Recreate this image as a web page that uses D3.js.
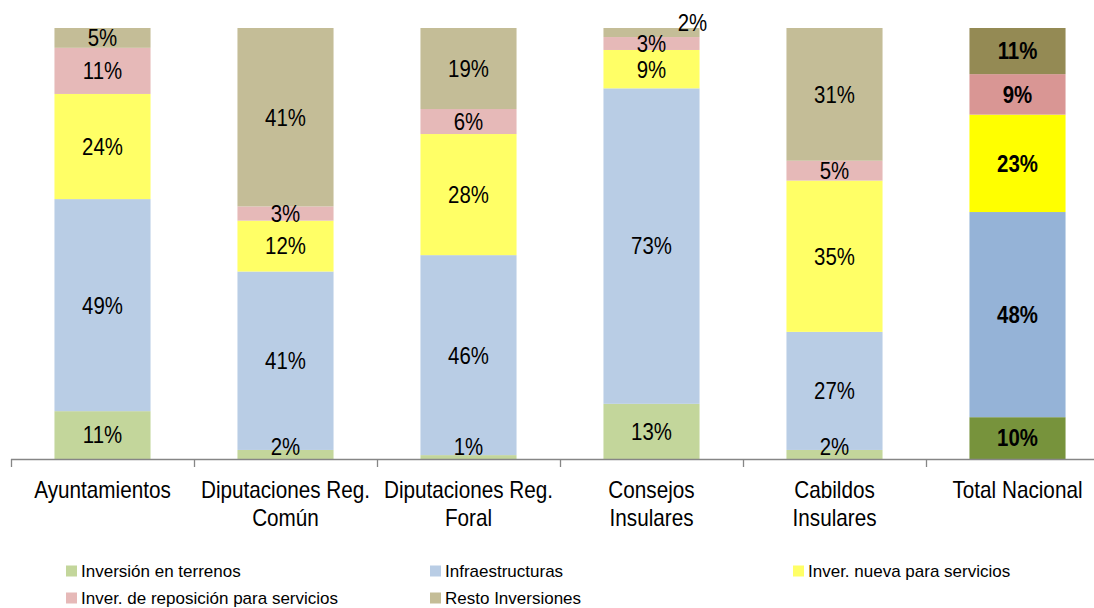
<!DOCTYPE html>
<html>
<head>
<meta charset="utf-8">
<script src="https://cdn.jsdelivr.net/npm/d3@7"></script>
<style>
  body { margin: 0; background: #fff; }
  svg { display: block; font-family: "Liberation Sans", Arial, sans-serif; }
</style>
</head>
<body>
<svg id="chart" width="1094" height="608"></svg>
<script>
// categories (text lines of each x label)
var categories = [
    ['Ayuntamientos'],
    ['Diputaciones Reg.', 'Común'],
    ['Diputaciones Reg.', 'Foral'],
    ['Consejos', 'Insulares'],
    ['Cabildos', 'Insulares'],
    ['Total Nacional']
];
var series = [
    'Inversión en terrenos',
    'Infraestructuras',
    'Inver. nueva para servicios',
    'Inver. de reposición para servicios',
    'Resto Inversiones'
];
// percentage per category, one list per series
var terrenos      = [11.1,  2.1,  0.9, 12.8,  2.1,  9.7];
var infraestruct  = [49.2, 41.4, 46.4, 73.2, 27.4, 47.6];
var nuevaServ     = [24.4, 11.8, 28.1,  8.9, 35.1, 22.6];
var reposicion    = [10.7,  3.3,  5.8,  3.0,  4.6,  9.4];
var resto         = [ 4.6, 41.4, 18.8,  2.1, 30.8, 10.7];

var colors      = ['#C3D69B', '#B9CDE5', '#FFFF66', '#E6B9B8', '#C4BD97'];
var totalColors = ['#77933C', '#95B3D7', '#FFFF00', '#D99694', '#948A54'];

var values = [terrenos, infraestruct, nuevaServ, reposicion, resto];
var svg = d3.select('#chart');

var names = categories.map(function (c) { return c.join(' '); });
var rows = names.map(function (n, i) {
    var r = {name: n};
    series.forEach(function (s, j) { r[s] = values[j][i]; });
    return r;
});

var x = d3.scaleBand()
    .domain(names)
    .range([11, 1109])
    .paddingInner(0.475)
    .paddingOuter(0.2375);
var y = d3.scaleLinear().domain([0, 100]).range([459, 28]);

var stacked = d3.stack().keys(series)(rows);
var last = names.length - 1;

// flatten into segments
var segments = [];
stacked.forEach(function (layer) {
    layer.forEach(function (p, i) {
        segments.push({p: p, s: layer.index, i: i, name: p.data.name});
    });
});

svg.append('g').selectAll('rect')
    .data(segments)
  .enter().append('rect')
    .attr('x', function (d) { return x(d.name); })
    .attr('width', x.bandwidth())
    .attr('y', function (d) { return y(d.p[1]); })
    .attr('height', function (d) { return y(d.p[0]) - y(d.p[1]); })
    .attr('fill', function (d) { return d.i === last ? totalColors[d.s] : colors[d.s]; });

function outside(d) {
    return d.s === series.length - 1 && d.p[1] - d.p[0] < 2.5;
}

svg.append('g').selectAll('text')
    .data(segments)
  .enter().append('text')
    .attr('text-anchor', 'middle')
    .attr('dy', '0.35em')
    .style('font-size', '24px')
    .style('font-weight', function (d) { return d.i === last ? 'bold' : 'normal'; })
    .attr('transform', function (d) {
        var cx = x(d.name) + x.bandwidth() / 2;
        var cy = (y(d.p[0]) + y(d.p[1])) / 2;
        cy = Math.min(cy, y(0) - 12);
        if (outside(d)) {
            cx += 41;
            cy = y(100) - 5;
        }
        return 'translate(' + cx + ',' + cy + ') scale(0.85,1)';
    })
    .text(function (d) { return Math.round(d.p[1] - d.p[0]) + '%'; });

// axis with ticks between categories
var axisColor = '#868686';
svg.append('line')
    .attr('x1', 11).attr('x2', 1094)
    .attr('y1', y(0) + 0.5).attr('y2', y(0) + 0.5)
    .attr('stroke', axisColor).attr('stroke-width', 1.3);
var gap = x.step() * x.paddingInner() / 2;
svg.selectAll('.tick')
    .data(names)
  .enter().append('line')
    .attr('class', 'tick')
    .attr('x1', function (d) { return Math.round(x(d) - gap) + 0.5; })
    .attr('x2', function (d) { return Math.round(x(d) - gap) + 0.5; })
    .attr('y1', y(0)).attr('y2', y(0) + 8)
    .attr('stroke', axisColor).attr('stroke-width', 1.3);

var labels = svg.selectAll('.cat')
    .data(categories)
  .enter().append('text')
    .attr('class', 'cat')
    .attr('text-anchor', 'middle')
    .style('font-size', '23px')
    .attr('transform', function (d, i) {
        return 'translate(' + (x(names[i]) + x.bandwidth() / 2) + ',498) scale(0.9,1)';
    });
labels.selectAll('tspan')
    .data(function (d) { return d; })
  .enter().append('tspan')
    .attr('x', 0)
    .attr('dy', function (d, i) { return i === 0 ? 0 : 28; })
    .text(function (d) { return d; });

// legend
var legendPos = [[66, 571], [430, 571], [793, 571], [66, 598], [430, 598]];
var legend = svg.selectAll('.legend')
    .data(series)
  .enter().append('g')
    .attr('class', 'legend')
    .attr('transform', function (d, i) { return 'translate(' + legendPos[i][0] + ',' + legendPos[i][1] + ')'; });
legend.append('rect')
    .attr('x', 0).attr('y', -5.5)
    .attr('width', 11).attr('height', 11)
    .attr('fill', function (d, i) { return colors[i]; });
legend.append('text')
    .attr('x', 15)
    .attr('dy', '0.35em')
    .style('font-size', '17px')
    .text(function (d) { return d; });
</script>
</body>
</html>
